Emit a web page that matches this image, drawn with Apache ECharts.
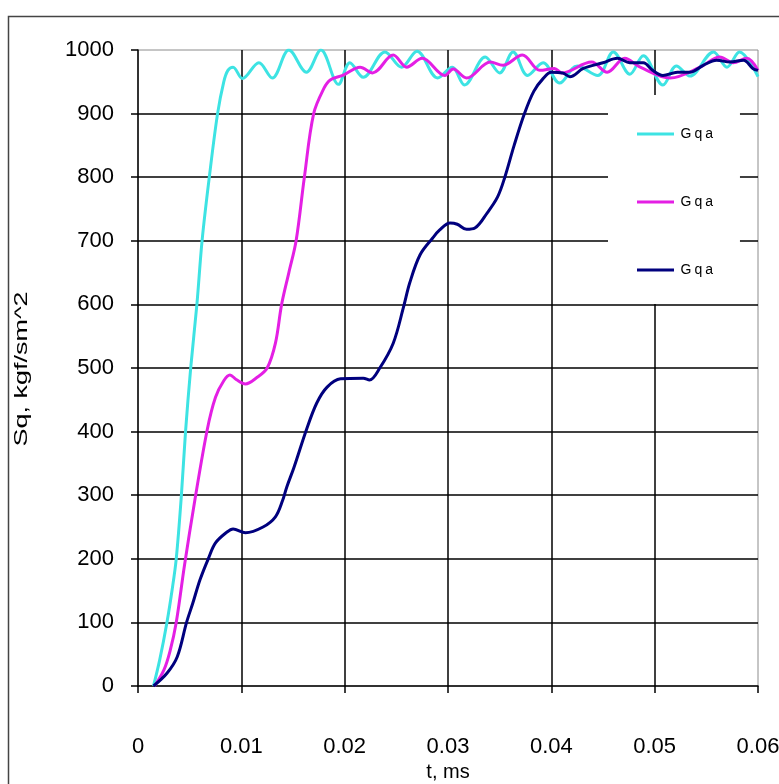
<!DOCTYPE html>
<html>
<head>
<meta charset="utf-8">
<script src="https://cdn.jsdelivr.net/npm/echarts@6/dist/echarts.min.js"></script>
<style>
  html, body { margin: 0; padding: 0; background: #fff; }
  #chart { width: 779px; height: 784px; }
</style>
</head>
<body>
<div id="chart"></div>
<script>
// Time (ms) and pressure Sq (kgf/sm^2) samples for the three curves
const tCyan = [0.0015,0.0021,0.0028,0.0033,0.0037,0.0042,0.0046,0.0051,0.0057,0.0062,0.0069,0.0077,0.0083,0.0087,0.0092,0.0101,0.0117,0.0130,0.0146,0.0163,0.0177,0.0194,0.0205,0.0218,0.0239,0.0255,0.0270,0.0290,0.0304,0.0316,0.0336,0.0350,0.0363,0.0377,0.0392,0.0408,0.0425,0.0445,0.0460,0.0476,0.0489,0.0508,0.0521,0.0534,0.0557,0.0570,0.0582,0.0600];
const vCyan = [0,41,100,151,200,300,400,500,600,700,800,900,950,968,973,955,980,956,1000,965,1000,946,980,957,997,973,998,956,973,945,989,964,997,960,980,948,975,960,997,962,991,945,975,959,997,973,997,958];

const tMagenta = [0.0016,0.0025,0.0031,0.0037,0.0045,0.0055,0.0067,0.0075,0.0083,0.0089,0.0095,0.0104,0.0115,0.0125,0.0133,0.0139,0.0146,0.0153,0.0161,0.0170,0.0180,0.0186,0.0198,0.0215,0.0227,0.0247,0.0260,0.0275,0.0297,0.0305,0.0318,0.0341,0.0353,0.0372,0.0389,0.0403,0.0410,0.0439,0.0454,0.0471,0.0486,0.0515,0.0544,0.0563,0.0576,0.0589,0.0600];
const vMagenta = [0,25,55,100,190,292,403,454,480,489,482,475,485,500,539,600,650,700,800,900,940,953,960,973,964,992,973,987,960,970,956,981,976,992,968,971,964,981,965,987,973,956,973,989,980,987,968];

const tNavy = [0.0015,0.0028,0.0038,0.0047,0.0053,0.0060,0.0068,0.0075,0.0086,0.0092,0.0104,0.0121,0.0133,0.0140,0.0144,0.0151,0.0163,0.0173,0.0183,0.0196,0.0218,0.0224,0.0234,0.0247,0.0257,0.0263,0.0273,0.0285,0.0292,0.0302,0.0309,0.0318,0.0326,0.0338,0.0348,0.0355,0.0364,0.0374,0.0383,0.0392,0.0400,0.0411,0.0418,0.0431,0.0450,0.0464,0.0476,0.0489,0.0498,0.0508,0.0522,0.0534,0.0547,0.0560,0.0573,0.0586,0.0595,0.0600];
const vNavy = [0,20,46,100,130,167,200,225,242,247,241,250,266,292,313,344,403,445,470,483,484,481,500,539,596,634,678,704,717,728,726,718,720,744,769,800,850,900,935,955,965,964,958,971,980,987,980,980,968,960,965,965,976,984,981,984,971,968];

const seriesNames = ['Gqa-1', 'Gqa-2', 'Gqa-3'];
const yTitle = 'Sq, kgf/sm^2';
const xTitle = 't, ms';

function pairs(ts, vs) { return ts.map((t, i) => [t, vs[i]]); }

const FONT = "'Liberation Sans', Arial, sans-serif";
const chart = echarts.init(document.getElementById('chart'), null, { renderer: 'canvas' });

chart.setOption({
  backgroundColor: '#ffffff',
  animation: false,
  grid: {
    left: 138, right: 21, top: 50, bottom: 98,
    outerBoundsMode: 'none', containLabel: false,
    show: true, borderColor: '#8c8c8c', borderWidth: 1, backgroundColor: 'transparent'
  },
  legend: {
    orient: 'vertical',
    left: 608, top: 95,
    padding: [32, 27, 27, 29],
    itemGap: 54,
    itemWidth: 37, itemHeight: 3,
    icon: 'rect',
    backgroundColor: '#ffffff',
    data: seriesNames,
    formatter: () => '{c|G}{c|q}{c|a}',
    textStyle: {
      fontFamily: FONT, fontSize: 14, color: '#000',
      rich: { c: { fontFamily: FONT, fontSize: 14, color: '#000', padding: [0, 1.5, 0, 1.5] } }
    }
  },
  xAxis: {
    type: 'value', min: 0, max: 0.06, interval: 0.01,
    name: xTitle, nameLocation: 'middle', nameGap: 71,
    nameTextStyle: { fontFamily: FONT, fontSize: 20, color: '#000' },
    axisLine: { show: true, onZero: false, lineStyle: { color: '#000', width: 1.5 } },
    axisTick: { show: true, inside: false, length: 7, lineStyle: { color: '#000', width: 1.5 } },
    axisLabel: {
      fontFamily: FONT, fontSize: 22, color: '#000', margin: 50,
      hideOverlap: false, showMaxLabel: true,
      formatter: v => (v === 0 ? '0' : v.toFixed(2))
    },
    splitLine: { show: true, showMinLine: false, showMaxLine: false, lineStyle: { color: '#000', width: 1.5 } }
  },
  yAxis: {
    type: 'value', min: 0, max: 1000, interval: 100,
    axisLine: { show: true, lineStyle: { color: '#000', width: 1.5 } },
    axisTick: { show: true, inside: false, length: 7, lineStyle: { color: '#000', width: 1.5 } },
    axisLabel: { fontFamily: FONT, fontSize: 22, color: '#000', margin: 24, formatter: v => String(v) },
    splitLine: { show: true, showMinLine: false, showMaxLine: false, lineStyle: { color: '#000', width: 1.5 } }
  },
  graphic: [
    {
      type: 'rect', left: 6, top: 14, z: 100, silent: true,
      shape: { width: 800, height: 800 },
      style: { fill: 'none', stroke: '#444', lineWidth: 1.5 }
    },
    {
      // vertical axis title, stretched along its reading direction
      type: 'text', x: 22, y: 369, rotation: Math.PI / 2, scaleX: 1.5, scaleY: 1, silent: true,
      style: {
        text: yTitle, font: "18px 'Liberation Sans', Arial, sans-serif", fill: '#000',
        align: 'center', verticalAlign: 'middle'
      }
    }
  ],
  series: [
    { name: seriesNames[0], type: 'line', data: pairs(tCyan, vCyan), showSymbol: false, symbol: 'none',
      smooth: 0.35, lineStyle: { color: '#3de3e3', width: 3 }, itemStyle: { color: '#3de3e3' }, z: 3 },
    { name: seriesNames[1], type: 'line', data: pairs(tMagenta, vMagenta), showSymbol: false, symbol: 'none',
      smooth: 0.35, lineStyle: { color: '#e41fe4', width: 3 }, itemStyle: { color: '#e41fe4' }, z: 4 },
    { name: seriesNames[2], type: 'line', data: pairs(tNavy, vNavy), showSymbol: false, symbol: 'none',
      smooth: 0.35, lineStyle: { color: '#00007e', width: 3 }, itemStyle: { color: '#00007e' }, z: 5 }
  ]
});
</script>
</body>
</html>
